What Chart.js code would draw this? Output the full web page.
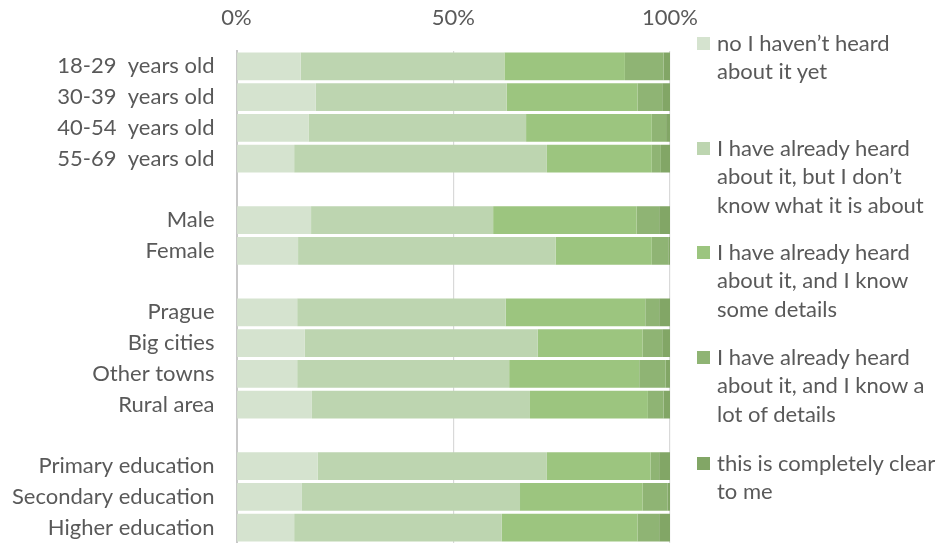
<!DOCTYPE html>
<html>
<head>
<meta charset="utf-8">
<script src="https://cdn.jsdelivr.net/npm/chart.js@4/dist/chart.umd.min.js"></script>
<style>
  html, body { margin: 0; padding: 0; background: #fff; }
  #wrap { position: relative; width: 945px; height: 543px; overflow: hidden; }
  #c { position: absolute; left: 0; top: 0; }
  .lg { position: absolute; left: 697px; font-family: Lato, "Open Sans", sans-serif; font-size: 22px; line-height: 28.6px; color: #595959; white-space: nowrap; }
  .lg .sw { position: absolute; left: 0; top: 8px; width: 13px; height: 13px; }
  .lg .tx { position: absolute; left: 20px; top: 0; }
</style>
</head>
<body>
<div id="wrap">
  <canvas id="c" width="945" height="543"></canvas>
  <div id="legend"></div>
</div>
<script>
const categories = ["18-29  years old", "30-39  years old", "40-54  years old", "55-69  years old", "",
  "Male", "Female", "",
  "Prague", "Big cities", "Other towns", "Rural area", "",
  "Primary education", "Secondary education", "Higher education"];
const seriesNames = ["no I haven\u2019t heard\nabout it yet",
  "I have already heard\nabout it, but I don\u2019t\nknow what it is about",
  "I have already heard\nabout it, and I know\nsome details",
  "I have already heard\nabout it, and I know a\nlot of details",
  "this is completely clear\nto me"];
const notHeard      = [14.8, 18.3, 16.6, 13.3, null, 17.2, 14.2, null, 14.0, 15.7, 14.0, 17.4, null, 18.7, 15.1, 13.3];
const heardNoIdea   = [47.0, 44.0, 50.2, 58.3, null, 42.0, 59.4, null, 48.1, 53.8, 48.9, 50.3, null, 52.9, 50.3, 47.9];
const someDetails   = [27.8, 30.2, 29.0, 24.2, null, 33.1, 22.2, null, 32.2, 24.2, 30.0, 27.2, null, 23.9, 28.3, 31.3];
const lotDetails    = [8.9, 5.7, 3.3, 2.1, null, 5.2, 3.8, null, 3.2, 4.5, 6.1, 3.6, null, 2.0, 5.7, 5.0];
const completelyClear = [1.5, 1.8, 0.9, 2.1, null, 2.5, 0.4, null, 2.5, 1.8, 1.0, 1.5, null, 2.5, 0.6, 2.5];
const xTicks = [0, 50, 100];
const colors = ["#d5e3cf", "#bdd5b0", "#9cc57f", "#8fb474", "#82a666"];
const legendTops = [43, 148, 252, 357, 463];

const seriesData = [notHeard, heardNoIdea, someDetails, lotDetails, completelyClear];
const datasets = seriesData.map((d, i) => ({
  label: seriesNames[i].replace(/\n/g, ' '),
  data: d,
  backgroundColor: colors[i],
  borderWidth: 0,
  barPercentage: 0.91,
  categoryPercentage: 1.0
}));

const font = { family: "Lato, 'Open Sans', sans-serif", size: 22 };
new Chart(document.getElementById('c'), {
  type: 'bar',
  data: { labels: categories, datasets },
  options: {
    indexAxis: 'y',
    responsive: false,
    animation: false,
    layout: { padding: { left: 0, right: 275, top: 0, bottom: 0 } },
    plugins: { legend: { display: false }, tooltip: { enabled: false } },
    scales: {
      x: {
        position: 'top',
        stacked: true,
        min: 0, max: 100,
        afterBuildTicks: (s) => { s.ticks = xTicks.map(v => ({ value: v })); },
        afterFit: (s) => { s.height = 51; s.paddingLeft = 0; s.paddingRight = 0; },
        ticks: { callback: v => v + '%', color: '#595959', font, padding: 20, maxRotation: 0 },
        grid: { color: '#d9d9d9', lineWidth: 1.2, drawTicks: false },
        border: { display: false }
      },
      y: {
        stacked: true,
        afterFit: (s) => { s.width = 236.5; s.paddingTop = 0; s.paddingBottom = 0; },
        ticks: { color: '#595959', font, padding: 22, autoSkip: false },
        grid: { display: false, drawTicks: false },
        border: { display: true, color: '#c8c8c8', width: 2 }
      }
    }
  }
});

const lg = document.getElementById('legend');
seriesNames.forEach((n, i) => {
  const d = document.createElement('div');
  d.className = 'lg';
  d.style.top = (legendTops[i] - 14.3) + 'px';
  d.innerHTML = '<div class="sw" style="background:' + colors[i] + '"></div><div class="tx"></div>';
  const tx = d.querySelector('.tx');
  n.split('\n').forEach((line, j) => {
    if (j) tx.appendChild(document.createElement('br'));
    tx.appendChild(document.createTextNode(line));
  });
  lg.appendChild(d);
});
</script>
</body>
</html>
